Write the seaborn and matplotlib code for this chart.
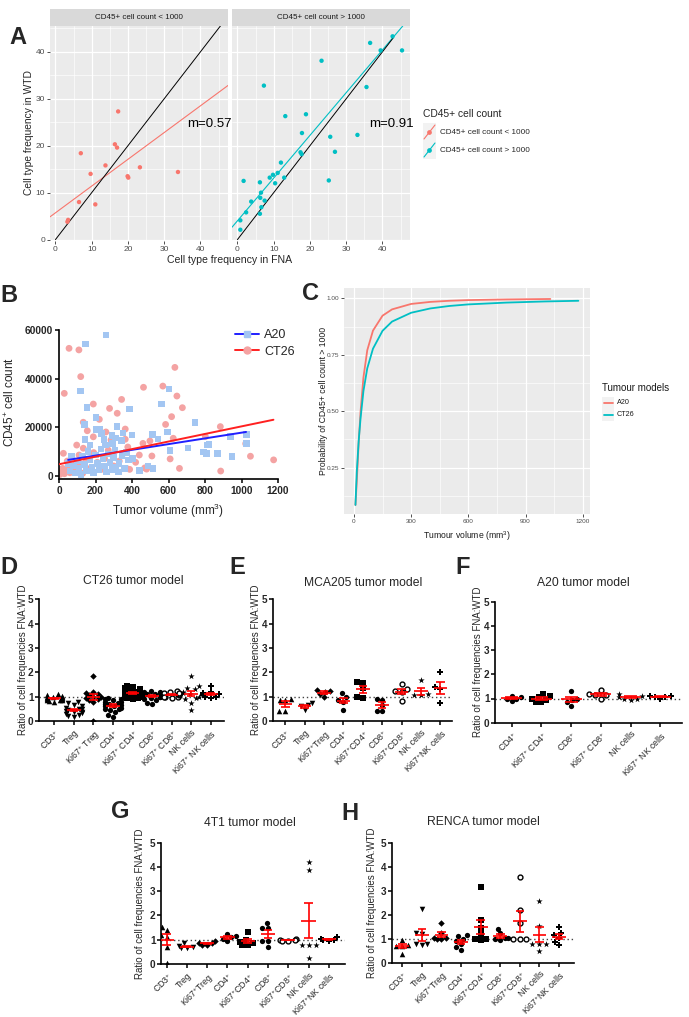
import numpy as np
import matplotlib
matplotlib.use("Agg")
import matplotlib.pyplot as plt
import seaborn as sns
from matplotlib.lines import Line2D
from matplotlib.patches import Rectangle
import warnings
warnings.filterwarnings("ignore")

sns.set_theme(style="white")
plt.rcParams['font.family'] = ['Liberation Sans', 'DejaVu Sans']
plt.rcParams['mathtext.default'] = 'regular'

# ---------------- DATA ----------------
# Panel A
a_facets = ["CD45+ cell count < 1000", "CD45+ cell count > 1000"]
a_low_x = [3.3, 3.5, 6.5, 7.0, 9.7, 11.0, 13.8, 16.4, 17.0, 17.3, 19.9, 20.1, 23.3, 33.8]
a_low_y = [3.8, 4.2, 8.0, 18.4, 14.0, 7.5, 15.8, 20.3, 19.6, 27.3, 13.5, 13.2, 15.4, 14.4]
a_high_x = [0.8, 0.8, 1.7, 2.4, 3.8, 6.2, 6.3, 6.2, 6.5, 6.6, 7.3, 7.5, 8.9, 9.8, 10.4, 11.1,
            12.0, 12.9, 13.2, 17.4, 17.7, 17.8, 18.9, 23.2, 25.2, 25.6, 26.9, 33.1, 35.6,
            36.6, 39.5, 42.8, 45.4]
a_high_y = [4.1, 2.1, 12.5, 5.8, 8.1, 12.2, 8.9, 5.5, 10.0, 6.9, 32.8, 8.3, 13.2, 13.8, 12.0, 14.2,
            16.4, 13.2, 26.3, 18.6, 18.2, 22.7, 26.7, 38.1, 12.6, 21.9, 18.7, 22.3, 32.5,
            41.9, 40.3, 43.3, 40.3]
a_slope = [0.57, 0.91]
a_intercept = [5.7, 4.0]
a_identity_end = [47.0, 43.0]
a_slope_labels = ["m=0.57", "m=0.91"]

# Panel B
b_ct26_x = [55, 109, 119, 29, 188, 277, 319, 343, 463, 569, 635, 646, 676, 617, 584, 221, 257, 285,
            363, 377, 460, 498, 509, 609, 626, 660, 884, 886, 1023, 1049, 1176, 802, 133, 24, 363,
            387, 370, 480, 97, 188, 155, 133,
            5, 15, 20, 30, 40, 45, 55, 60, 70, 80, 90, 100, 110, 120, 130, 150, 170, 190, 210,
            230, 250, 270, 300, 330, 350, 420, 440, 470]
b_ct26_y = [52450, 51800, 40800, 33900, 29500, 27700, 25700, 31400, 36400, 36900, 44600, 32800,
            28000, 24300, 21100, 23200, 18000, 14700, 19200, 11800, 13300, 14300, 8100, 6900,
            15400, 3000, 20200, 1900, 13200, 8000, 6500, 16100, 22000, 9200, 15000, 2600, 3000,
            2700, 12600, 16000, 18500, 11300,
            500, 1500, 3000, 800, 2500, 6000, 4000, 1200, 7500, 3500, 5000, 2000, 8500, 4500,
            1000, 6500, 3000, 9500, 5500, 2500, 7000, 10500, 4000, 6000, 9000, 5500, 8500, 3200]
b_a20_x = [257, 146, 119, 153, 140, 202, 206, 387, 562, 602, 746, 401, 511, 542, 595, 607, 706,
           793, 808, 823, 868, 947, 941, 1027, 1027, 815, 514, 489, 440, 403, 326, 319, 294, 233,
           224, 246, 255, 343, 306, 142, 170, 69, 51,
           60, 80, 90, 100, 110, 120, 130, 140, 150, 160, 170, 180, 190, 200, 210, 220, 230, 240,
           250, 260, 270, 280, 290, 300, 310, 330, 345, 360, 380, 290, 310, 350, 370]
b_a20_y = [57900, 54200, 34900, 28100, 21100, 24000, 19100, 27500, 29500, 35700, 21800, 16800,
           17000, 15200, 18000, 10300, 11400, 9700, 9200, 12900, 9100, 7800, 16200, 13200, 17000,
           12600, 3000, 4000, 2100, 7100, 1500, 20200, 13300, 17400, 19100, 15000, 12600, 14400,
           10600, 15000, 12600, 7800, 5100,
           2000, 4000, 1000, 6000, 3000, 500, 8000, 4500, 2000, 10000, 6500, 3500, 1200, 8500,
           5000, 2500, 11000, 7000, 4000, 1500, 9000, 5500, 2500, 7500, 3500, 5000, 8000, 3000,
           6500, 16500, 15500, 17500, 9500]
b_models = ["A20", "CT26"]
b_fit_slope = [11.8, 15.6]
b_fit_intercept = [5910, 4700]
b_fit_xrange = [(50, 1025), (0, 1175)]

# Panel C
c_a20_x = [8, 15, 25, 35, 50, 70, 100, 150, 200, 300, 400, 500, 600, 800, 1030]
c_a20_y = [0.085, 0.19, 0.36, 0.50, 0.65, 0.77, 0.857, 0.923, 0.951, 0.975, 0.984, 0.989, 0.992,
           0.995, 0.997]
c_ct26_x = [8, 15, 25, 35, 50, 70, 100, 150, 200, 300, 400, 500, 600, 800, 1000, 1177]
c_ct26_y = [0.085, 0.23, 0.37, 0.47, 0.59, 0.69, 0.777, 0.856, 0.897, 0.936, 0.955, 0.966, 0.973,
            0.981, 0.986, 0.989]

# Panels D-H
cat_keys = ['CD3', 'Treg', 'Ki67Treg', 'CD4', 'Ki67CD4', 'CD8', 'Ki67CD8', 'NK', 'Ki67NK']
labels_spaced = ['CD3$^{+}$', 'Treg', 'Ki67$^{+}$ Treg', 'CD4$^{+}$', 'Ki67$^{+}$ CD4$^{+}$',
                 'CD8$^{+}$', 'Ki67$^{+}$ CD8$^{+}$', 'NK cells', 'Ki67$^{+}$ NK cells']
labels_tight = ['CD3$^{+}$', 'Treg', 'Ki67$^{+}$Treg', 'CD4$^{+}$', 'Ki67$^{+}$CD4$^{+}$',
                'CD8$^{+}$', 'Ki67$^{+}$CD8$^{+}$', 'NK cells', 'Ki67$^{+}$NK cells']
f_keys = ['CD4', 'Ki67CD4', 'CD8', 'Ki67CD8', 'NK', 'Ki67NK']
f_labels = ['CD4$^{+}$', 'Ki67$^{+}$ CD4$^{+}$', 'CD8$^{+}$', 'Ki67$^{+}$ CD8$^{+}$', 'NK cells',
            'Ki67$^{+}$ NK cells']

d_ct26 = {
    'CD3': [0.78, 0.82, 0.85, 0.88, 0.9, 0.92, 0.95, 0.97, 1.0, 1.02, 1.05, 1.1, 0.86, 0.93, 0.98],
    'Treg': [0.15, 0.2, 0.25, 0.3, 0.32, 0.38, 0.42, 0.45, 0.5, 0.55, 0.6, 0.65, 0.72, 0.8, 0.35, 0.48],
    'Ki67Treg': [1.85, 0.0, 0.95, 1.0, 1.1, 1.05, 0.9, 0.85, 0.8, 1.15, 1.2, 1.0],
    'CD4': [0.15, 0.25, 0.35, 0.45, 0.5, 0.55, 0.6, 0.65, 0.7, 0.75, 0.8, 0.85, 0.9, 0.95, 0.6, 0.7,
            0.5, 0.8, 0.9],
    'Ki67CD4': [0.9, 0.95, 1.0, 1.0, 1.05, 1.05, 1.1, 1.1, 1.15, 1.2, 1.25, 1.3, 1.35, 1.4, 1.45,
                0.95, 1.0, 1.2],
    'CD8': [0.7, 0.75, 0.85, 0.9, 1.0, 1.05, 1.1, 1.15, 1.2, 1.2, 1.25, 1.0, 0.95, 1.1],
    'Ki67CD8': [0.95, 1.0, 1.0, 1.05, 1.05, 1.1, 1.1, 1.15, 1.2, 1.25, 1.0, 1.1, 1.15],
    'NK': [1.85, 0.45, 0.75, 0.95, 1.1, 1.2, 1.35, 1.3, 1.0, 0.9, 1.45, 1.15],
    'Ki67NK': [1.45, 1.0, 1.1, 1.2, 1.05, 0.95, 1.1, 1.0, 1.15],
}
e_mca205 = {
    'CD3': [0.87, 0.85, 0.42, 0.43, 0.92],
    'Treg': [0.72, 0.45, 0.62, 0.65],
    'Ki67Treg': [1.0, 1.27, 1.18, 1.25, 1.12],
    'CD4': [0.98, 1.15, 0.78, 0.45, 0.85],
    'Ki67CD4': [1.57, 1.62, 0.95, 1.0, 1.35],
    'CD8': [0.88, 0.92, 0.4, 0.4, 0.65],
    'Ki67CD8': [1.52, 1.22, 1.18, 0.82, 1.3],
    'NK': [1.68, 1.05, 1.05, 1.1],
    'Ki67NK': [2.0, 0.75, 1.3, 1.4],
}
f_a20 = {
    'CD4': [1.08, 1.12, 0.88, 1.0, 0.98],
    'Ki67CD4': [1.1, 1.2, 0.85, 0.85, 1.05, 1.0, 0.95],
    'CD8': [1.33, 0.7, 0.85, 1.0, 0.95],
    'Ki67CD8': [1.35, 1.0, 1.15, 1.15, 1.2],
    'NK': [1.1, 0.95, 1.05, 1.2, 1.0, 1.0],
    'Ki67NK': [1.12, 1.05, 1.1, 1.0, 1.08],
}
g_4t1 = {
    'CD3': [1.52, 1.4, 1.2, 1.1, 0.7, 0.05],
    'Treg': [0.85, 0.75, 0.65, 0.65, 0.7],
    'Ki67Treg': [0.85, 0.8, 0.95, 0.85, 0.8],
    'CD4': [1.25, 1.1, 0.95, 1.05, 1.15],
    'Ki67CD4': [1.3, 1.0, 0.85, 0.8, 0.9, 0.8],
    'CD8': [1.71, 1.5, 1.5, 0.94, 0.94, 0.71],
    'Ki67CD8': [1.05, 0.95, 1.0, 1.0, 0.95],
    'NK': [4.22, 3.89, 0.79, 0.79, 0.79, 0.25],
    'Ki67NK': [1.05, 1.0, 0.95, 1.0, 1.1],
}
h_renca = {
    'CD3': [0.95, 0.72, 0.68, 0.7, 0.38],
    'Treg': [2.22, 1.22, 1.18, 0.8, 0.78, 0.72],
    'Ki67Treg': [1.65, 1.25, 1.05, 1.0, 1.0, 1.05],
    'CD4': [1.15, 1.1, 1.0, 0.9, 0.8, 0.65, 0.55],
    'Ki67CD4': [3.15, 1.78, 1.2, 1.0, 0.98, 0.95, 1.45],
    'CD8': [1.42, 1.22, 1.05, 0.95, 1.0, 1.02],
    'Ki67CD8': [3.58, 2.2, 1.65, 0.97, 0.97, 0.97],
    'NK': [2.56, 1.54, 0.78, 0.78, 0.78, 0.5],
    'Ki67NK': [1.5, 1.25, 1.05, 0.85, 0.72, 1.15],
}

# ---------------- FIGURE ----------------
W, H = 689, 1017
fig = plt.figure(figsize=(W / 100, H / 100), dpi=100)
fig.patch.set_facecolor('white')


def add_ax(l, t, r, b):
    return fig.add_axes([l / W, 1 - b / H, (r - l) / W, (b - t) / H])


def ftext(x, y, s, **kw):
    return fig.text(x / W, 1 - y / H, s, **kw)


NARROW = ['Liberation Sans Narrow', 'Liberation Sans', 'DejaVu Sans']
RED_GG, CYAN_GG = '#F8766D', '#00BFC4'


def gg_style(ax, xmaj, xmin, ymaj, ymin, lsize, show_y=True, family=None):
    ax.set_facecolor('#EBEBEB')
    for s in ax.spines.values():
        s.set_visible(False)
    ax.set_xticks(xmaj)
    ax.set_xticks(xmin, minor=True)
    ax.set_yticks(ymaj)
    ax.set_yticks(ymin, minor=True)
    ax.grid(True, which='major', color='white', lw=0.9)
    ax.grid(True, which='minor', color='white', lw=0.45)
    ax.set_axisbelow(True)
    ax.tick_params(which='major', length=2, width=0.6, color='#333333', labelsize=lsize,
                   labelcolor='#4D4D4D', pad=1.5, bottom=True, left=show_y,
                   labelleft=show_y)
    ax.tick_params(which='minor', length=0)
    ax.set_xlabel('')
    ax.set_ylabel('')
    if family:
        for t in ax.get_xticklabels() + ax.get_yticklabels():
            t.set_family(family)


# ---------- Panel A ----------
a_boxes = [(50, 228), (232, 410)]
a_data = [(a_low_x, a_low_y, RED_GG), (a_high_x, a_high_y, CYAN_GG)]
for i in range(2):
    l, r = a_boxes[i]
    strip = add_ax(l, 9, r, 26)
    strip.set_facecolor('#D9D9D9')
    strip.set_xticks([]); strip.set_yticks([])
    for s in strip.spines.values():
        s.set_visible(False)
    strip.text(0.5, 0.5, a_facets[i], ha='center', va='center', fontsize=5.8,
               color='#1A1A1A', family=NARROW, transform=strip.transAxes)
    ax = add_ax(l, 26, r, 241)
    xs, ys, col = a_data[i]
    sns.scatterplot(x=xs, y=ys, color=col, s=10, edgecolor='none', ax=ax, zorder=3)
    ax.axline((0, a_intercept[i]), slope=a_slope[i], color=col, lw=0.8, zorder=2)
    e = a_identity_end[i]
    ax.plot([0, e], [0, e], color='black', lw=0.7, zorder=2)
    ax.set_xlim(-1.5, 47.6)
    ax.set_ylim(-0.3, 45.5)
    gg_style(ax, [0, 10, 20, 30, 40], [5, 15, 25, 35, 45], [0, 10, 20, 30, 40],
             [5, 15, 25, 35, 45], 6.0, show_y=(i == 0), family=NARROW)
    ax.text(42.4, 24.6, a_slope_labels[i], ha='center', va='center', fontsize=9.5,
            color='black', family=NARROW)

ftext(29, 133, 'Cell type frequency in WTD', rotation=90, ha='center', va='center',
      fontsize=7.4, family=NARROW)
ftext(230, 260, 'Cell type frequency in FNA', ha='center', va='center', fontsize=7.6,
      family=NARROW)
ftext(423, 114, 'CD45+ cell count', ha='left', va='center', fontsize=7.4, family=NARROW)
for j, (yc, col) in enumerate([(132, RED_GG), (150, CYAN_GG)]):
    fig.add_artist(Rectangle(((423) / W, 1 - (yc + 8.5) / H), 13 / W, 17 / H,
                             transform=fig.transFigure, facecolor='#F2F2F2', edgecolor='none'))
    fig.add_artist(Line2D([424 / W, 435 / W], [1 - (yc + 7) / H, 1 - (yc - 7) / H],
                          transform=fig.transFigure, color=col, lw=0.8))
    fig.add_artist(Line2D([429.5 / W], [1 - yc / H], transform=fig.transFigure, color=col,
                          marker='o', markersize=2.4, lw=0))
    ftext(440, yc, a_facets[j], ha='left', va='center', fontsize=5.9, family=NARROW)

# ---------- Panel B ----------
axB = add_ax(59, 330, 278, 479.3)
sns.scatterplot(x=b_ct26_x, y=b_ct26_y, marker='o', color='#F4A3A3', s=24, edgecolor='none',
                ax=axB, zorder=2)
sns.scatterplot(x=b_a20_x, y=b_a20_y, marker='s', color='#A3C6F2', s=22, edgecolor='none',
                ax=axB, zorder=3)
b_cols = ['#1F1FFF', '#FF2020']
for k in range(2):
    x0, x1 = b_fit_xrange[k]
    axB.plot([x0, x1], [b_fit_intercept[k] + b_fit_slope[k] * x0,
                        b_fit_intercept[k] + b_fit_slope[k] * x1], color=b_cols[k], lw=1.4,
             zorder=4)
axB.set_xlim(0, 1200)
axB.set_ylim(-1500, 60000)
axB.set_xticks([0, 200, 400, 600, 800, 1000, 1200])
axB.set_yticks([0, 20000, 40000, 60000])
for s in ['top', 'right']:
    axB.spines[s].set_visible(False)
for s in ['left', 'bottom']:
    axB.spines[s].set_linewidth(1.2)
    axB.spines[s].set_color('black')
axB.tick_params(length=3, width=1.1, direction='out', labelsize=7.3, pad=1.5, color='black',
                bottom=True, left=True)
for t in axB.get_xticklabels() + axB.get_yticklabels():
    t.set_fontweight('bold')
axB.set_xlabel(''); axB.set_ylabel('')
hB = [Line2D([], [], color=b_cols[0], marker='s', markerfacecolor='#A3C6F2',
             markeredgecolor='#A3C6F2', markersize=5, lw=1.4),
      Line2D([], [], color=b_cols[1], marker='o', markerfacecolor='#F4A3A3',
             markeredgecolor='#F4A3A3', markersize=5, lw=1.4)]
axB.legend(hB, b_models, loc='upper left', bbox_to_anchor=(229 / W, 1 - 323 / H),
           bbox_transform=fig.transFigure, frameon=False, fontsize=9, handlelength=1.9,
           handletextpad=0.4, labelspacing=0.35, borderpad=0)
ftext(10, 402, 'CD45$^{+}$ cell count', rotation=90, ha='center', va='center', fontsize=8.5)
ftext(168, 511, 'Tumor volume (mm$^{3}$)', ha='center', va='center', fontsize=8.5)

# ---------- Panel C ----------
axC = add_ax(344, 288, 590, 514)
sns.lineplot(x=c_a20_x, y=c_a20_y, color=RED_GG, lw=1.3, ax=axC, zorder=3)
sns.lineplot(x=c_ct26_x, y=c_ct26_y, color=CYAN_GG, lw=1.3, ax=axC, zorder=3)
axC.set_xlim(-52, 1238)
axC.set_ylim(0.045, 1.0456)
gg_style(axC, [0, 300, 600, 900, 1200], [150, 450, 750, 1050], [0.25, 0.5, 0.75, 1.0],
         [0.125, 0.375, 0.625, 0.875], 4.6)
axC.set_yticklabels(['0.25', '0.50', '0.75', '1.00'])
ftext(323, 401, 'Probability of CD45+ cell count > 1000', rotation=90, ha='center',
      va='center', fontsize=6.2, color='#1A1A1A')
ftext(467, 536, 'Tumour volume (mm$^{3}$)', ha='center', va='center', fontsize=6.2,
      color='#1A1A1A')
ftext(602, 388, 'Tumour models', ha='left', va='center', fontsize=7, color='#1A1A1A')
for j, (yc, col) in enumerate([(403, RED_GG), (415, CYAN_GG)]):
    fig.add_artist(Rectangle((602 / W, 1 - (yc + 6) / H), 12 / W, 12 / H,
                             transform=fig.transFigure, facecolor='#F2F2F2', edgecolor='none'))
    fig.add_artist(Line2D([603.5 / W, 612.5 / W], [1 - yc / H, 1 - yc / H],
                          transform=fig.transFigure, color=col, lw=1.3))
    ftext(617, yc, b_models[j], ha='left', va='center', fontsize=5.2, color='#1A1A1A')

# ---------- Panels D-H ----------
markers = {'CD3': '^', 'Treg': 'v', 'Ki67Treg': 'D', 'CD4': 'o', 'Ki67CD4': 's', 'CD8': 'o',
           'Ki67CD8': 'o', 'NK': '*', 'Ki67NK': 'P'}
msize = {'CD3': 4.0, 'Treg': 4.0, 'Ki67Treg': 3.3, 'CD4': 3.8, 'Ki67CD4': 3.8, 'CD8': 3.8,
         'Ki67CD8': 3.5, 'NK': 4.8, 'Ki67NK': 3.8}


def dot_panel(box, keys, data, labels, xlim, title, title_xy, ylab_x, letter, letter_xy):
    ax = add_ax(*box)
    for i, k in enumerate(keys):
        vals = data[k]
        open_m = (k == 'Ki67CD8')
        sns.swarmplot(x=[k] * len(vals), y=vals, order=keys, ax=ax, marker=markers[k],
                      color='white' if open_m else 'black', edgecolor='black',
                      linewidth=1.0 if open_m else 0, size=msize[k], zorder=3)
        m = np.mean(vals)
        se = np.std(vals, ddof=1) / np.sqrt(len(vals))
        ax.hlines(m, i - 0.35, i + 0.35, color='#FF0000', lw=1.2, zorder=4)
        ax.vlines(i, m - se, m + se, color='#FF0000', lw=1.2, zorder=4)
        ax.hlines([m - se, m + se], i - 0.22, i + 0.22, color='#FF0000', lw=1.2, zorder=4)
    ax.axhline(1, color='#444444', lw=1.0, ls=(0, (1, 2)), zorder=1)
    ax.set_xlim(*xlim)
    ax.set_ylim(0, 5)
    ax.set_yticks([0, 1, 2, 3, 4, 5])
    ax.set_xticks(range(len(keys)))
    ax.set_xticklabels(labels, rotation=45, ha='right', rotation_mode='anchor', fontsize=6.3)
    for s in ['top', 'right']:
        ax.spines[s].set_visible(False)
    for s in ['left', 'bottom']:
        ax.spines[s].set_linewidth(1.2)
        ax.spines[s].set_color('black')
    ax.tick_params(axis='both', length=3, width=1.1, direction='out', color='black',
                   bottom=True, left=True)
    ax.tick_params(axis='y', labelsize=7.2, pad=1)
    ax.tick_params(axis='x', pad=2)
    for t in ax.get_yticklabels():
        t.set_fontweight('bold')
    ax.set_xlabel(''); ax.set_ylabel('')
    ax.grid(False)
    ftext(title_xy[0], title_xy[1], title, ha='center', va='center', fontsize=8.7)
    yc = (box[1] + box[3]) / 2
    ftext(ylab_x, yc, 'Ratio of cell frequencies FNA:WTD', rotation=90, ha='center',
          va='center', fontsize=7.0)
    ftext(letter_xy[0], letter_xy[1], letter, ha='left', va='center', fontsize=17,
          fontweight='bold')
    return ax


dot_panel((39.3, 599.3, 224, 721), cat_keys, d_ct26, labels_spaced, (-0.77, 8.68),
          'CT26 tumor model', (133, 581), 23, 'D', (0, 567))
dot_panel((273.3, 599.3, 452, 721), cat_keys, e_mca205, labels_tight, (-0.62, 8.6),
          'MCA205 tumor model', (363, 583), 256, 'E', (229, 567))
dot_panel((495, 601.7, 681.7, 722.7), f_keys, f_a20, f_labels, (-0.56, 5.72),
          'A20 tumor model', (583, 583), 478, 'F', (455, 568))
dot_panel((161, 842.7, 345, 964), cat_keys, g_4t1, labels_tight, (-0.28, 8.8),
          '4T1 tumor model', (250, 823), 140, 'G', (111, 812))
dot_panel((391.7, 842.7, 574.3, 962.7), cat_keys, h_renca, labels_tight, (-0.54, 8.78),
          'RENCA tumor model', (483, 822), 372, 'H', (341, 813))

# panel letters A-C
ftext(9, 37, 'A', ha='left', va='center', fontsize=17, fontweight='bold')
ftext(0, 295, 'B', ha='left', va='center', fontsize=17, fontweight='bold')
ftext(302, 293, 'C', ha='left', va='center', fontsize=17, fontweight='bold')

fig.savefig('out.png', dpi=100, facecolor='white')
